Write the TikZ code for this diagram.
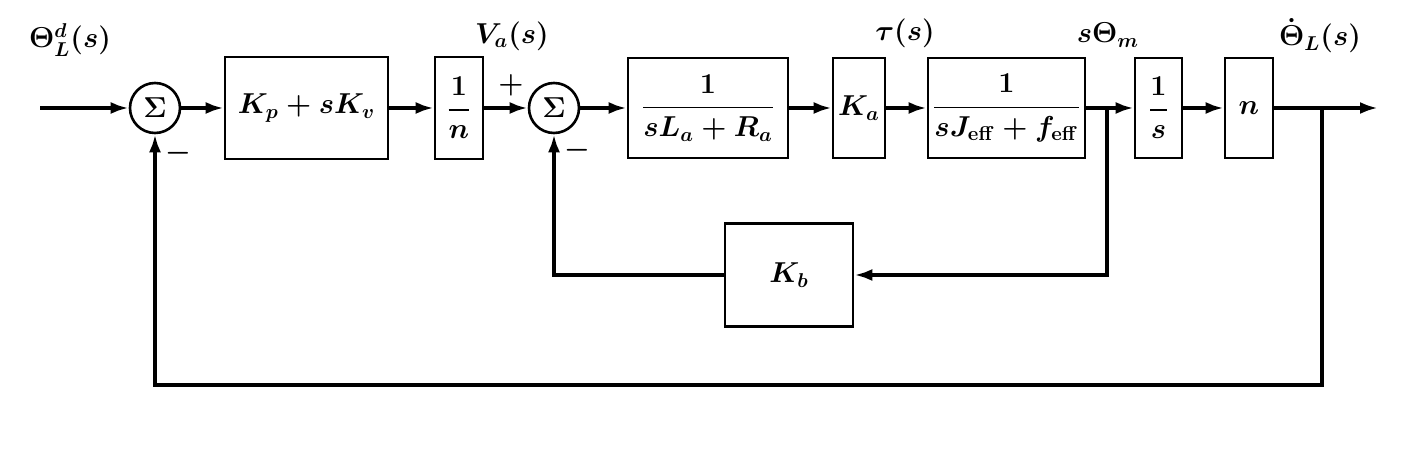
\documentclass[tikz,border=0pt]{standalone}
\usepackage{amsmath, amssymb, bm}
\usetikzlibrary{arrows.meta}

\tikzset{
  blk/.style={draw, line width=1.3pt, minimum height=51pt, inner sep=2pt, font=\Large\boldmath},
  sumnode/.style={draw, circle, line width=1.3pt, minimum size=25pt, inner sep=0pt, font=\Large\boldmath},
  sig/.style={line width=2pt, -{Latex[length=9pt,width=6pt]}},
  lbl/.style={font=\Large\boldmath}
}

\begin{document}
\begin{tikzpicture}[x=0.5pt, y=-0.5pt]
        \useasboundingbox (0,0) rectangle (1408,459);

        % forward path
        \coordinate (in) at (40,108);
        \node[sumnode] (s1) at (155,108) {$\Sigma$};
        \node[blk, minimum width=81.5pt] (pd) at (306.5,108) {$K_p + sK_v$};
        \node[blk, minimum width=24pt] (inv) at (459,108) {$\dfrac{1}{n}$};
        \node[sumnode] (s2) at (554,108) {$\Sigma$};
        \node[blk, minimum width=80pt, minimum height=50pt] (el) at (708,108) {$\dfrac{1}{sL_a + R_a}$};
        \node[blk, minimum width=26pt, minimum height=50pt] (ka) at (859,108) {$K_a$};
        \node[blk, minimum width=78.5pt, minimum height=50pt] (mech) at (1006.5,108) {$\dfrac{1}{sJ_{\mathrm{eff}} + f_{\mathrm{eff}}}$};
        \node[blk, minimum width=23.5pt, minimum height=50pt] (integ) at (1158.5,108) {$\dfrac{1}{s}$};
        \node[blk, minimum width=24pt, minimum height=50pt] (gear) at (1249,108) {$n$};
        \coordinate (out) at (1378,108);

        % feedback
        \coordinate (b1) at (1107,108);
        \coordinate (b2) at (1322,108);
        \node[blk, minimum width=64pt, minimum height=51.5pt] (kb) at (789,275) {$K_b$};
        \coordinate (bot) at (1322,385);

        \draw[sig] (in) -- (s1);
        \draw[sig] (s1) -- (pd);
        \draw[sig] (pd) -- (inv);
        \draw[sig] (inv) -- (s2);
        \draw[sig] (s2) -- (el);
        \draw[sig] (el) -- (ka);
        \draw[sig] (ka) -- (mech);
        \draw[sig] (mech) -- (integ);
        \draw[sig] (integ) -- (gear);
        \draw[sig] (gear) -- (out);

        \draw[sig] (b1) |- (kb.east);
        \draw[sig] (kb.west) -| (s2.south);
        \draw[sig] (b2) -- (bot) -| (s1.south);

        % signal labels
        \node[lbl] (lref) at (70,40) {$\Theta_L^d(s)$};
        \node[lbl] (lva) at (512,36) {$V_a(s)$};
        \node[lbl] (ltau) at (905,33) {$\tau(s)$};
        \node[lbl] (lw) at (1108,35) {$s\Theta_m$};
        \node[lbl] (lout) at (1320,36) {$\dot{\Theta}_L(s)$};
        \node[lbl] (lp) at (511,85) {$+$};
        \node[lbl] (lm2) at (577,150) {$-$};
        \node[lbl] (lm1) at (178,153) {$-$};

    \end{tikzpicture}
\end{document}
